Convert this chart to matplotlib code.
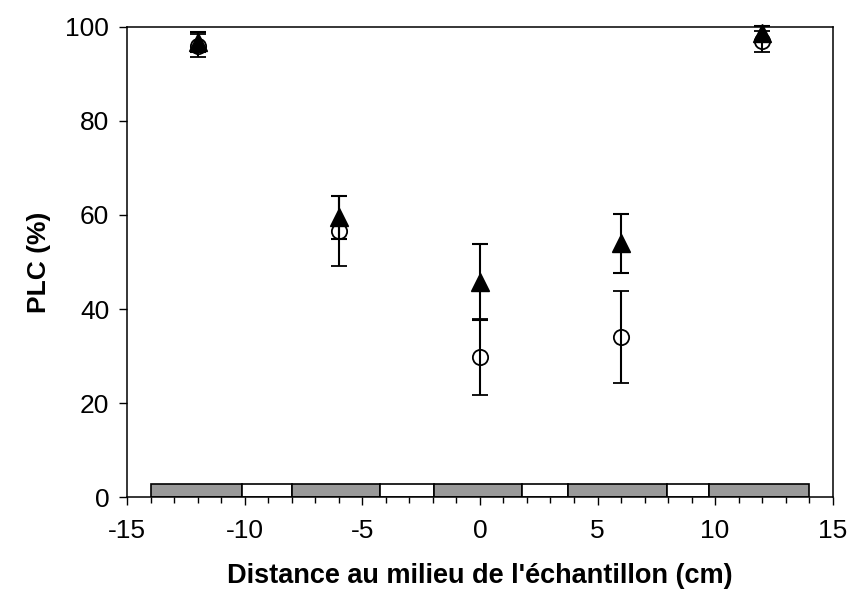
import matplotlib.pyplot as plt
from matplotlib.ticker import MultipleLocator

plt.rcParams['font.family'] = ['Liberation Sans', 'DejaVu Sans']
plt.rcParams['axes.unicode_minus'] = False

# positions along the sample (cm)
dist = [-12, -6, 0, 6, 12]

# triangles (filled)
plc_tri = [96.8, 59.5, 45.7, 54.0, 98.7]
err_tri = [2.2, 4.6, 8.1, 6.3, 1.5]

# circles (open)
plc_circ = [96.0, 56.6, 29.8, 34.0, 96.9]
err_circ = [2.4, 7.4, 8.0, 9.8, 2.2]

# strip at the bottom of the chart
seg_start = [-14, -10.1, -8.0, -4.25, -1.95, 1.8, 3.75, 7.95, 9.75]
seg_end = [-10.1, -8.0, -4.25, -1.95, 1.8, 3.75, 7.95, 9.75, 14]
seg_color = ['#999999', 'white', '#999999', 'white', '#999999',
             'white', '#999999', 'white', '#999999']
strip_height = 2.8

fig = plt.figure(figsize=(8.54, 6.10), dpi=100)
ax = fig.add_axes([0.149, 0.185, 0.826, 0.771])

for s, e, c in zip(seg_start, seg_end, seg_color):
    ax.bar(s, strip_height, width=e - s, align='edge', color=c,
           edgecolor='black', linewidth=1.2, zorder=2)

ax.errorbar(dist, plc_circ, yerr=err_circ, fmt='o', color='black',
            markerfacecolor='none', markeredgecolor='black', markersize=11,
            markeredgewidth=1.3, elinewidth=1.5, capsize=5.5, capthick=1.5,
            clip_on=False, zorder=3)
ax.errorbar(dist, plc_tri, yerr=err_tri, fmt='^', color='black',
            markersize=12.5, elinewidth=1.5, capsize=5.5, capthick=1.5,
            clip_on=False, zorder=4)

ax.set_xlim(-15, 15)
ax.set_ylim(0, 100)
ax.xaxis.set_major_locator(MultipleLocator(5))
ax.xaxis.set_minor_locator(MultipleLocator(1))
ax.yaxis.set_major_locator(MultipleLocator(20))
ax.tick_params(axis='both', which='major', direction='out', length=6,
               width=1, labelsize=19, pad=7)
ax.tick_params(axis='x', which='major', pad=10)
ax.tick_params(axis='x', which='minor', direction='out', length=4, width=1)

for sp in ax.spines.values():
    sp.set_linewidth(1.1)
    sp.set_color('black')

ax.set_xlabel("Distance au milieu de l'échantillon (cm)", fontsize=19.5,
              fontweight='bold', labelpad=14)
ax.set_ylabel('PLC (%)', fontsize=19, fontweight='bold', labelpad=10)

fig.savefig('out.png', dpi=100)
